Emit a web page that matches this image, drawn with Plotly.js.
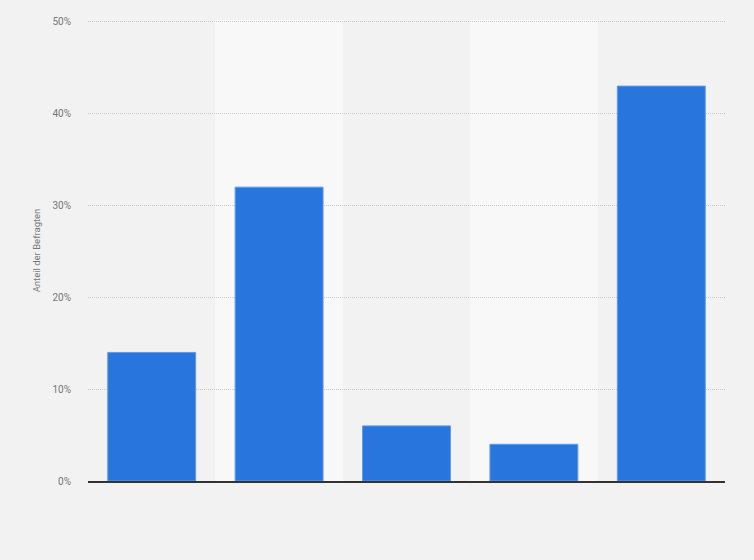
<!DOCTYPE html>
<html>
<head>
<meta charset="utf-8">
<script src="https://cdn.plot.ly/plotly-3.0.1.min.js"></script>
<style>
  html, body { margin: 0; padding: 0; background: #f2f2f2; }
  #plot { width: 754px; height: 560px; }
</style>
</head>
<body>
<div id="plot"></div>
<script>
var categories = [0, 1, 2, 3, 4];
var shares = [14, 32, 6, 4, 43];
var tick_values = [0, 10, 20, 30, 40, 50];
var tick_labels = ['0%', '10%', '20%', '30%', '40%', '50%'];
var shaded_columns = [1, 3];

var bar_trace = {
   type: 'bar',
   x: categories,
   y: shares,
   marker: {
      color: '#2876dd',
      line: {width: 1, color: '#5d9ae8'}
   },
   hoverinfo: 'y'
};

var bands = shaded_columns.map(function (c) {
   return {
      type: 'rect',
      xref: 'x',
      yref: 'paper',
      x0: c - 0.5,
      x1: c + 0.5,
      y0: 0,
      y1: 1,
      fillcolor: '#f8f8f8',
      line: {width: 0},
      layer: 'below'
   };
});

var layout = {
   width: 754,
   height: 560,
   paper_bgcolor: '#f2f2f2',
   plot_bgcolor: '#f2f2f2',
   margin: {l: 88, r: 29, t: 20, b: 79},
   bargap: 0.31,
   showlegend: false,
   shapes: bands,
   xaxis: {
      range: [-0.5, 4.5],
      showticklabels: false,
      showgrid: false,
      zeroline: false,
      showline: true,
      linecolor: '#333333',
      linewidth: 1.5,
      ticks: ''
   },
   yaxis: {
      range: [0, 50.2],
      tickvals: tick_values,
      ticktext: tick_labels,
      tickfont: {family: 'Roboto', size: 10, color: '#777777'},
      gridcolor: '#cccccc',
      griddash: '1px,1px',
      gridwidth: 1,
      zeroline: false,
      ticks: 'outside',
      tickcolor: 'rgba(0,0,0,0)',
      ticklen: 14,
      title: {
         text: 'Anteil der Befragten',
         font: {family: 'Roboto', size: 9.5, color: '#777777'},
         standoff: 10
      }
   }
};

Plotly.newPlot('plot', [bar_trace], layout, {displayModeBar: false, staticPlot: true});
</script>
</body>
</html>
